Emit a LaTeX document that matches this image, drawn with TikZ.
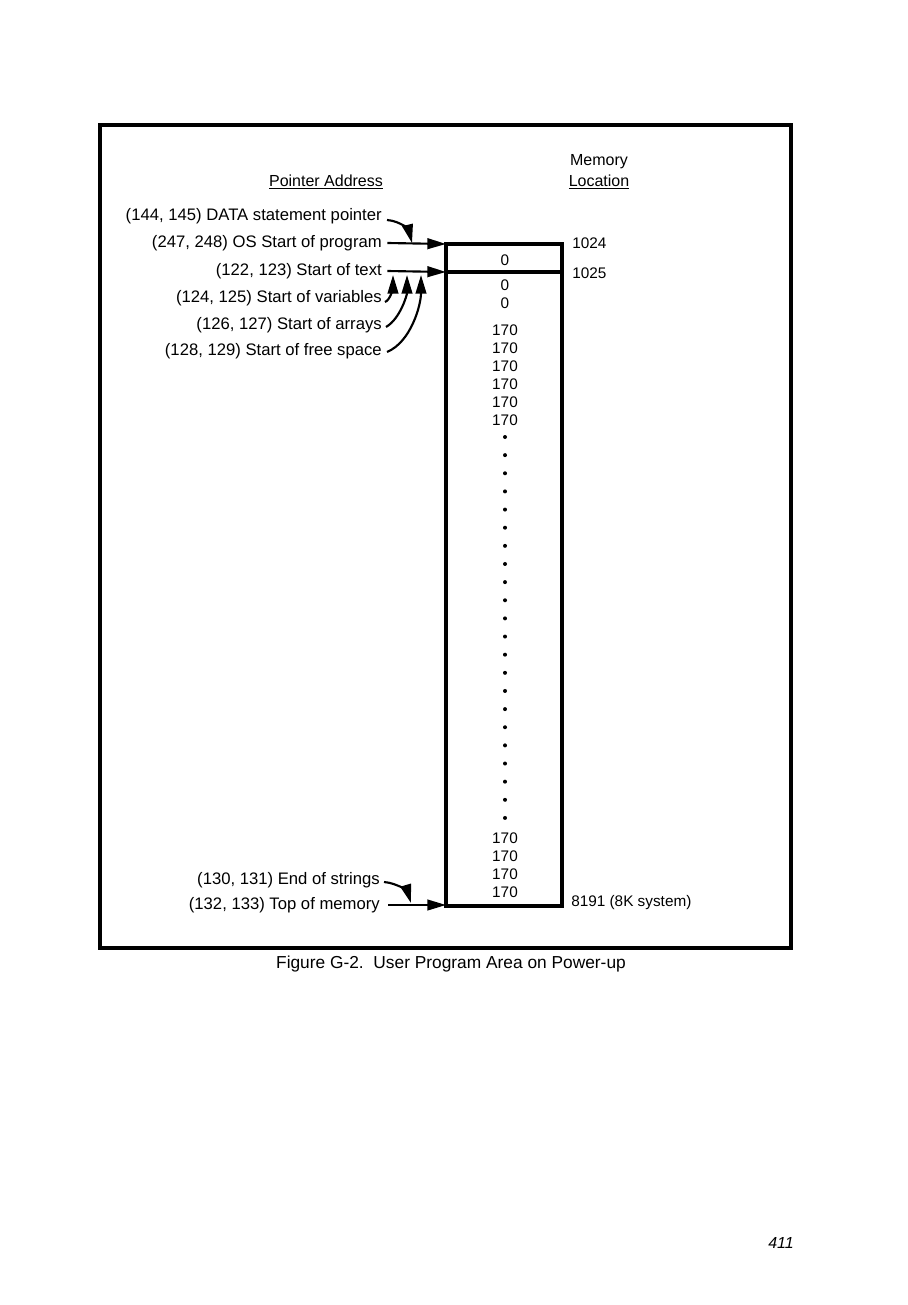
\documentclass[tikz,border=0pt]{standalone}
\usepackage{fontspec}
\setmainfont{Liberation Sans}
\usetikzlibrary{arrows.meta,positioning,calc}

\tikzset{
  head/.style={inner sep=0pt, font=\fontsize{12}{14}\selectfont},
  ptrname/.style={anchor=east, inner sep=0pt, font=\fontsize{12.5}{14}\selectfont},
  locnum/.style={anchor=west, inner sep=0pt, font=\fontsize{11.5}{13}\selectfont},
  cell/.style={inner sep=0pt, font=\fontsize{11.5}{13}\selectfont},
  ptr/.style={line width=1.6pt, ->},
}

\begin{document}
\begin{tikzpicture}[x=0.75pt, y=-0.75pt, >={Triangle[length=14pt,width=8pt]}]
  \useasboundingbox (0,0) rectangle (907,1305);
  \draw [line width=2.6pt] (100,125) rectangle (791,948);
  % memory column
  \draw [line width=2.3pt] (446,244) rectangle (562,906);
  \draw [line width=2.3pt] (446,272) -- (562,272);
  \coordinate (m1024) at (446,244);
  \coordinate (m1025) at (446,272);
  \coordinate (m8191) at (446,905);
  \coordinate (tdata) at (412,243);
  \coordinate (tvar) at (393,275);
  \coordinate (tarr) at (407,275);
  \coordinate (tfree) at (421,275);
  \coordinate (tstr) at (411,903);

  % headings
  \node [head] (ptrhead) at (326,182) {\underline{Pointer Address}};
  \node [head] (memhead) at (599,162) {Memory};
  \node [head] (lochead) at (599,182) {\underline{Location}};

  % pointer names
  \node [ptrname] (data) at (382,216) {(144, 145) DATA statement pointer};
  \node [ptrname] (prog) at (382,243) {(247, 248) OS Start of program};
  \node [ptrname] (text) at (382,271) {(122, 123) Start of text};
  \node [ptrname] (vars) at (382,298) {(124, 125) Start of variables};
  \node [ptrname] (arrs) at (382,325) {(126, 127) Start of arrays};
  \node [ptrname] (free) at (382,351) {(128, 129) Start of free space};
  \node [ptrname] (strs) at (380,880) {(130, 131) End of strings};
  \node [ptrname] (top) at (380,905) {(132, 133) Top of memory};

  % locations
  \node [locnum] (l1024) at (572,243) {1024};
  \node [locnum] (l1025) at (572,273) {1025};
  \node [locnum] (l8191) at (571,903) {8191 (8K system)};

  % cell contents
  \node [cell] (c0) at (505,260) {0};
  \node [cell] (c1) at (505,285) {0};
  \node [cell] (c2) at (505,303) {0};
  \foreach \y in {330,348,...,420}
    \node [cell] at (505,\y) {170};
  \foreach \i in {0,...,21}
    \fill ({505},{437+18.14*\i}) circle (1.5pt);
  \foreach \y in {838,856,874,892}
    \node [cell] at (505,\y) {170};

  % pointers
  \draw [ptr] ([xshift=4pt]prog.east) -- (m1024);
  \draw [ptr] ([xshift=4pt]text.east) -- (m1025);
  \draw [ptr] ([xshift=6pt]top.east) -- (m8191);
  \draw [ptr] ($(data.east)+(5,4)$) .. controls +(14,1) and +(-3,-12) .. (tdata);
  \draw [ptr] ($(vars.east)+(3,4)$) .. controls +(6,-2) and +(0,10) .. (tvar);
  \draw [ptr] ($(arrs.east)+(4,2)$) .. controls +(14,-8) and +(0,20) .. (tarr);
  \draw [ptr] ($(free.east)+(5,1)$) .. controls +(24,-10) and +(0,30) .. (tfree);
  \draw [ptr] ($(strs.east)+(4,2)$) .. controls +(14,1) and +(-3,-10) .. (tstr);

  \node [font=\fontsize{13}{15}\selectfont, inner sep=0pt] (caption) at (451,964)
    {Figure G-2.\ \ User Program Area on Power-up};
  \node [font=\itshape\fontsize{12}{14}\selectfont, inner sep=0pt] (page) at (781,1243) {411};
\end{tikzpicture}
\end{document}
